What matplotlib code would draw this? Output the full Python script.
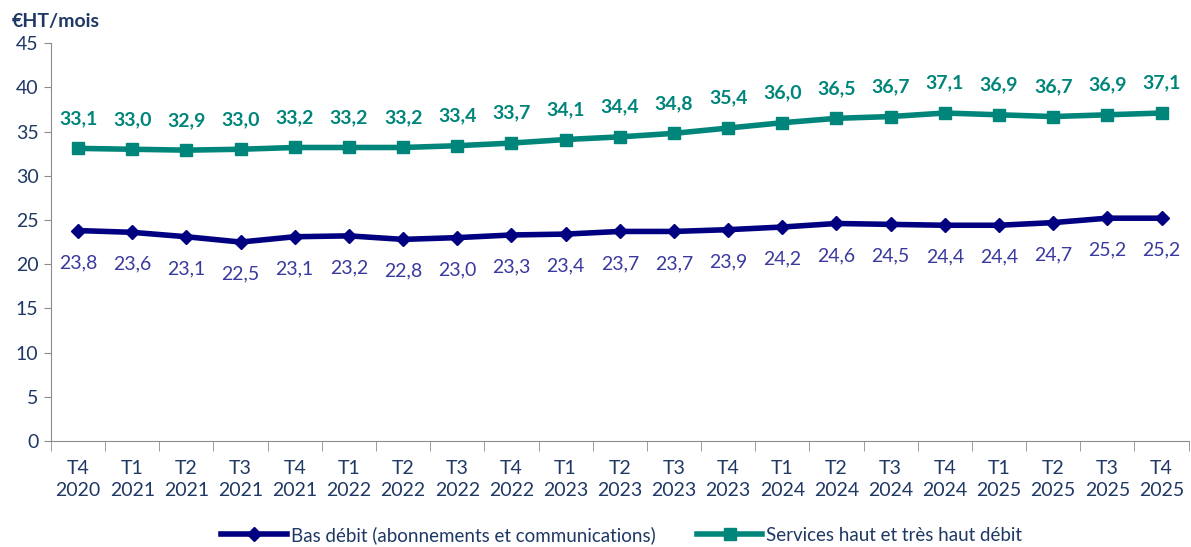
import numpy as np
import matplotlib
matplotlib.use("Agg")
from matplotlib import pyplot as plt

quarters = ["T4", "T1", "T2", "T3", "T4", "T1", "T2", "T3", "T4", "T1", "T2",
            "T3", "T4", "T1", "T2", "T3", "T4", "T1", "T2", "T3", "T4"]
years = ["2020", "2021", "2021", "2021", "2021", "2022", "2022", "2022", "2022",
         "2023", "2023", "2023", "2023", "2024", "2024", "2024", "2024",
         "2025", "2025", "2025", "2025"]
bas_debit = [23.8, 23.6, 23.1, 22.5, 23.1, 23.2, 22.8, 23.0, 23.3, 23.4, 23.7,
             23.7, 23.9, 24.2, 24.6, 24.5, 24.4, 24.4, 24.7, 25.2, 25.2]
haut_debit = [33.1, 33.0, 32.9, 33.0, 33.2, 33.2, 33.2, 33.4, 33.7, 34.1, 34.4,
              34.8, 35.4, 36.0, 36.5, 36.7, 37.1, 36.9, 36.7, 36.9, 37.1]

NAVY = "#000080"
TEAL = "#00857B"
LBL_NAVY = "#3A3A9E"
TXT = "#1F3864"
GRAY = "#8C8C8C"

plt.rcParams['font.family'] = ['Lato', 'DejaVu Sans']

fig = plt.figure(figsize=(11.91, 5.47), dpi=100)
ax = fig.add_axes([0.0428, 0.194, 0.9552, 0.727])

x = np.arange(len(quarters))
ax.plot(x, bas_debit, color=NAVY, lw=4, marker='D', ms=7,
        label="Bas débit (abonnements et communications)")
ax.plot(x, haut_debit, color=TEAL, lw=4, marker='s', ms=9,
        label="Services haut et très haut débit")

for i in x:
    ax.annotate(f"{bas_debit[i]:.1f}".replace('.', ','), (i, bas_debit[i]),
                xytext=(0, -23), textcoords='offset points', ha='center',
                va='center', color=LBL_NAVY, fontsize=14)
    ax.annotate(f"{haut_debit[i]:.1f}".replace('.', ','), (i, haut_debit[i]),
                xytext=(0, 21.5), textcoords='offset points', ha='center',
                va='center', color=TEAL, fontsize=14, fontweight='bold')

ax.set_xlim(-0.5, len(quarters) - 0.5)
ax.set_ylim(0, 45)
ax.set_yticks(range(0, 46, 5))
ax.tick_params(axis='y', labelsize=14, colors=TXT, length=5, color=GRAY, pad=4)
ax.set_xticks(x)
ax.set_xticklabels([f"{q}\n{y}" for q, y in zip(quarters, years)],
                   fontsize=14, color=TXT, linespacing=1.3)
ax.tick_params(axis='x', length=0, pad=14)
ax.set_xticks(np.arange(-0.5, len(quarters)), minor=True)
ax.tick_params(axis='x', which='minor', length=7, color=GRAY)

for s in ['top', 'right']:
    ax.spines[s].set_visible(False)
for s in ['left', 'bottom']:
    ax.spines[s].set_color(GRAY)

fig.text(0.01, 0.95, "€HT/mois", fontsize=14, fontweight='bold', color=TXT)

fig.legend(loc='lower center', bbox_to_anchor=(0.522, -0.025), ncol=2,
           frameon=False, fontsize=13.5, labelcolor=TXT, handlelength=3.5,
           columnspacing=2.2, handletextpad=0.2)

fig.savefig("out.png", dpi=100)
